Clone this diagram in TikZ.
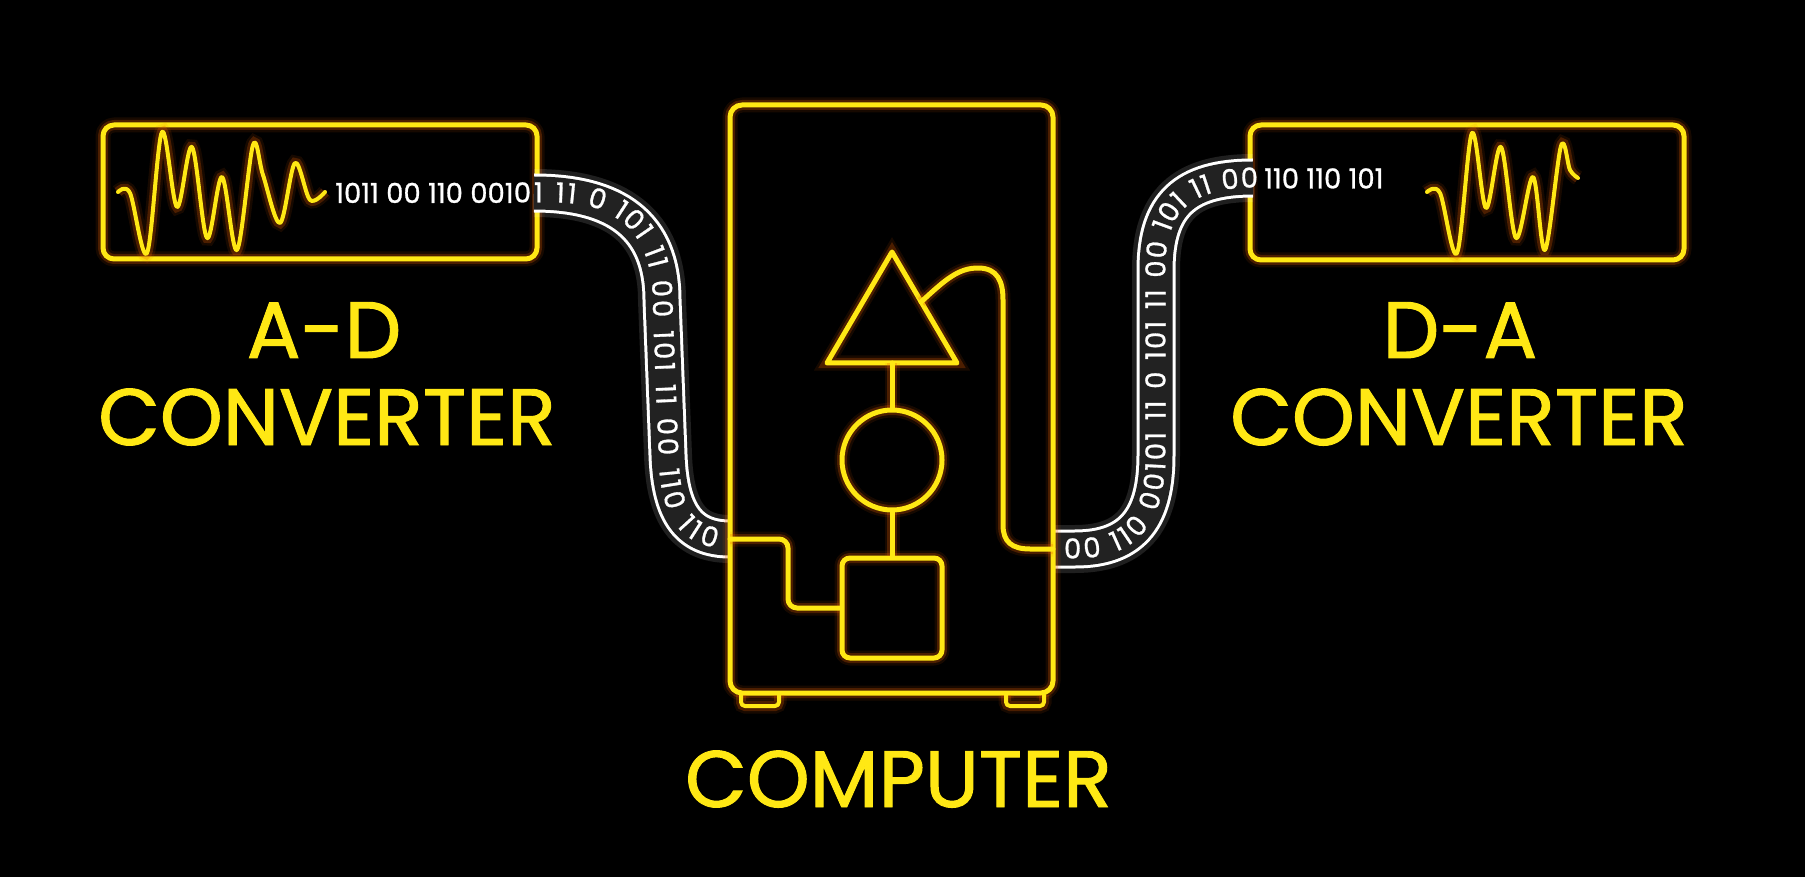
\documentclass[tikz,border=0pt]{standalone}
\usepackage{fontspec}
\usetikzlibrary{decorations.text}
\newfontfamily\pop[FakeBold=1.2]{Poppins}
\newfontfamily\popd[FakeBold=1.0]{Poppins}
\definecolor{neon}{RGB}{255,232,20}
\definecolor{glowc}{RGB}{235,95,0}
\definecolor{cabledark}{RGB}{34,34,34}
\newcommand\digitfont{\popd\fontsize{27.5}{27.5}\selectfont}
\newcommand\labfont{\pop\fontsize{80}{80}\selectfont}
\begin{document}
\begin{tikzpicture}[x=1pt,y=-1pt,
  neon/.style={draw=neon, line width=5pt, line cap=round, line join=round,
    preaction={draw=glowc, line width=15pt, draw opacity=0.10},
    preaction={draw=glowc, line width=10pt, draw opacity=0.25}},
  boxnode/.style={neon, rectangle, rounded corners=11pt, inner sep=0pt},
  bigtext/.style={text=neon, font=\labfont, inner sep=0pt, anchor=base},
  bitnode/.style={text=white, font=\digitfont, inner sep=0pt, anchor=base west},
  cable/.style={draw=cabledark, line width=33pt,
    preaction={draw=white, line width=48pt, draw opacity=0.12},
    preaction={draw=white, line width=39pt}},
  bits/.style={decorate, decoration={text along path, text color=white, raise=-9.5pt,
    text align={fit to path}}},
]
\fill[black] (0,0) rectangle (1805,877);
\useasboundingbox (0,0) rectangle (1805,877);

% converter boxes
\node[boxnode, minimum width=434pt, minimum height=134pt] (ad) at (320,192) {};
\node[boxnode, minimum width=434pt, minimum height=135pt] (da) at (1467,192.5) {};

% waves
\draw[neon, line width=4pt] plot[smooth, tension=0.55] coordinates {(118,192) (130,193) (147,253) (162,132) (177,207) (192,147) (207,238) (222,177) (237,250) (253,145) (263,175) (280,223) (295,163) (310,200) (325,192)};
\draw[neon, line width=4pt] plot[smooth, tension=0.55] coordinates {(1427,192) (1440,193) (1457,253) (1472,133) (1486,208) (1501,147) (1516,238) (1533,177) (1545,250) (1561,146) (1570,170) (1578,178)};

% cable coordinates
\coordinate (adout) at (534,193);
\coordinate (compin) at (730,539);
\coordinate (compout) at (1053,549);
\coordinate (dain) at (1253,178);

% cables
\path[cable] (adout) .. controls (615,193) and (662,225) .. (662,300) -- (668,455) .. controls (670,515) and (690,539) .. (compin);
\path[cable] (compout) -- (1075,549) .. controls (1135,549) and (1156,515) .. (1156,455) -- (1156,270) .. controls (1156,205) and (1185,178) .. (dain);

% computer
\node[boxnode, rounded corners=12pt, minimum width=323pt, minimum height=588pt] (comp) at (891.5,399) {};
\draw[neon, line width=4pt, rounded corners=4pt] (741,695) -- (741,706) -- (779,706) -- (779,695);
\draw[neon, line width=4pt, rounded corners=4pt] (1006,695) -- (1006,706) -- (1044,706) -- (1044,695);

% inside
\coordinate (apex) at (892,252);
\coordinate (bl) at (827,363);
\coordinate (br) at (957,363);
\coordinate (tribase) at (892,363);
\coordinate (triside) at (921,302);
\draw[neon] (apex) -- (br) -- (bl) -- cycle;
\node[neon, circle, minimum size=100pt, inner sep=0pt] (cpu) at (892,460) {};
\node[boxnode, rounded corners=8pt, minimum size=100pt] (mem) at (892,608) {};
\draw[neon] (tribase) -- (cpu.north);
\draw[neon] (cpu.south) -- (mem.north);
\draw[neon, rounded corners=9pt] (compin) -- (788,539) -- (788,608) -- (mem.west);
\draw[neon] (triside) .. controls (945,280) and (958,268) .. (978,268) .. controls (998,268) and (1003,282) .. (1003,300) -- (1003,525) .. controls (1003,542) and (1012,549) .. (1030,549) -- (compout);

% bits in boxes and along cables
\node[bitnode] (adbits) at (335,203) {1011 00 110 001};
\path[bits, decoration={text={|\digitfont|01 11 0 101 11 00 101 11 00 110 110}}]
  (adbits.east |- adout) -- (560,193) .. controls (622,195) and (662,228) .. (662,300) -- (668,455) .. controls (670,512) and (684,532) .. (718,539);
\node[bitnode] (dabits) at (1264,188.5) {110 110 101};
\path[bits, decoration={text={|\digitfont|00 110 00101 11 0 101 11 00 101 11 00}}]
  (1064,549) -- (1075,549) .. controls (1135,549) and (1156,515) .. (1156,455) -- (1156,270) .. controls (1156,205) and (1185,178) .. (1258,178);

% labels
\node[bigtext] (adl1) at (324,358) {A-D};
\node[bigtext] (adl2) at (327,445) {CONVERTER};
\node[bigtext] (dal1) at (1460,358) {D-A};
\node[bigtext] (dal2) at (1459,445) {CONVERTER};
\node[bigtext] (compl) at (898.5,807) {COMPUTER};
\end{tikzpicture}
\end{document}
